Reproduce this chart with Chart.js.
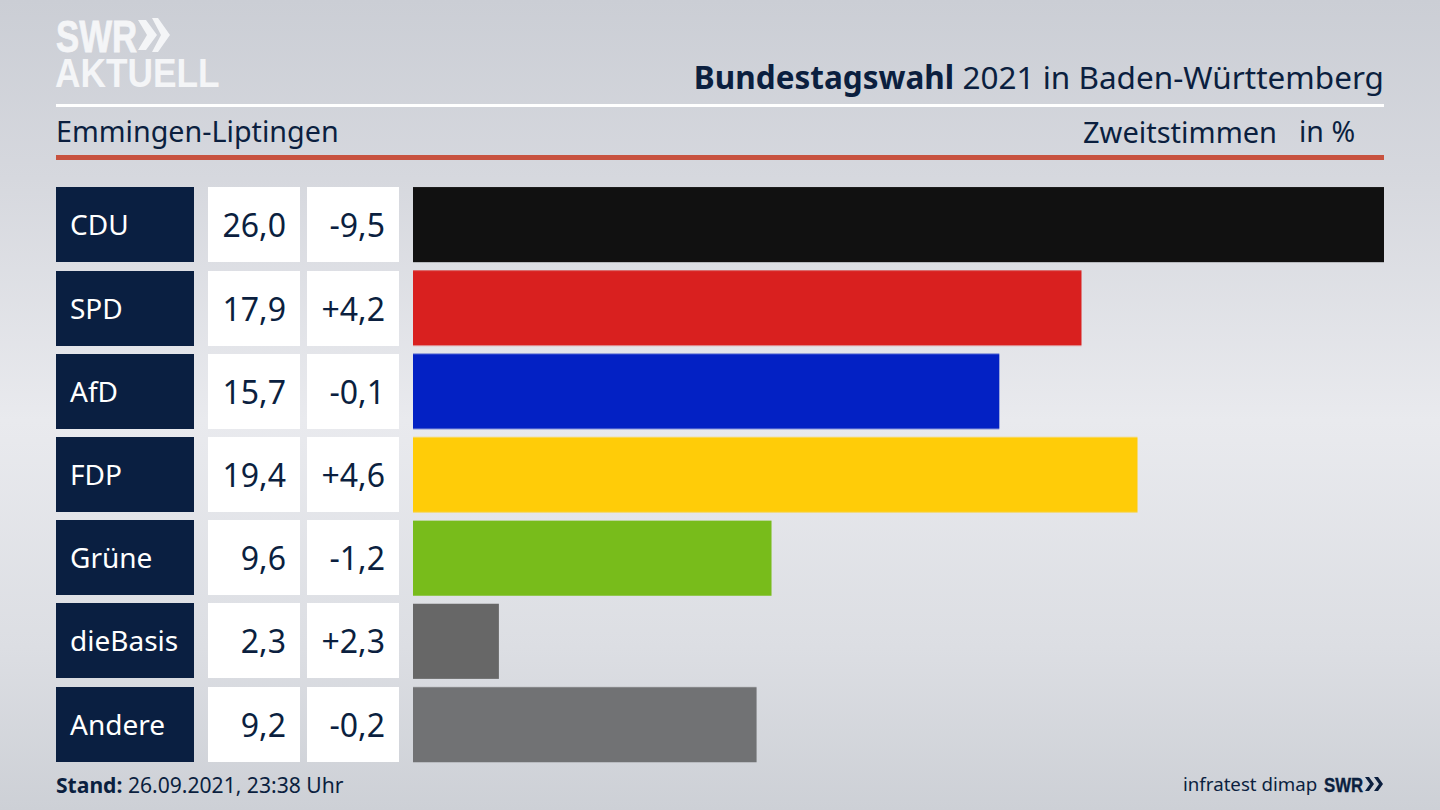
<!DOCTYPE html>
<html lang="de"><head><meta charset="utf-8">
<script src="https://cdn.jsdelivr.net/npm/chart.js@4"></script>
<style>
html,body{margin:0;padding:0;width:1440px;height:810px;overflow:hidden}
body{position:relative;background:linear-gradient(180deg,#cbced5 0%,#d6d8de 22%,#e9eaee 52%,#dcdee3 80%,#cdd0d6 100%);font-family:"Noto Sans",sans-serif;color:#0b1f3f}
.t{position:absolute;white-space:nowrap;line-height:1}
.logo{transform-origin:0 0;font-family:"Liberation Sans";font-weight:bold;color:#f4f5f7}
.box{position:absolute;height:75px;box-sizing:border-box;line-height:75px;white-space:nowrap}
.party{left:56px;width:138px;background:#0a1f41;color:#fff;padding-left:14px;font-size:28px}
.v1{left:208px;width:92px;background:#fff;text-align:right;padding-right:14px;font-size:32px}
.v2{left:307px;width:92px;background:#fff;text-align:right;padding-right:14px;font-size:32px}
.rule{position:absolute;left:56px;width:1328px}
#wrap{position:absolute;left:413px;top:183.4px;width:971px;height:582.4px}
</style></head><body>
<div class="t logo" style="left:56px;top:15px;font-size:44px;transform:scaleX(.79);-webkit-text-stroke:.8px #f4f5f7">SWR</div>
<svg style="position:absolute;left:136px;top:16px" width="36" height="38"><path fill="#f4f5f7" d="M2 4h8l11 15L10 34H2l9-15zM16 2h6l12 17-12 17h-6l9-17z"/></svg>
<div class="t logo" style="left:55px;top:53px;font-size:41px;transform:scaleX(.86)">AKTUELL</div>
<div class="t" style="right:56px;top:61px;font-size:31.5px"><b>Bundestagswahl</b> 2021 in Baden-Württemberg</div>
<div class="rule" style="top:104px;height:3px;background:#fff"></div>
<div class="t" style="left:56px;top:117px;font-size:28.7px">Emmingen-Liptingen</div>
<div class="t" style="left:1083px;top:117px;font-size:29px">Zweitstimmen</div>
<div class="t" style="left:1299px;top:117px;font-size:28.5px">in %</div>
<div class="rule" style="top:155px;height:5px;background:#c8523f"></div>
<div id="rows"></div>
<div id="wrap"><canvas id="c"></canvas></div>
<div class="t" style="left:56px;top:774px;font-size:21.1px"><b>Stand:</b> 26.09.2021, 23:38 Uhr</div>
<div class="t" style="left:1183px;top:775px;font-size:18.7px">infratest dimap</div>
<div class="t logo" style="left:1324px;top:774px;font-size:21px;transform:scaleX(.8);color:#0b1f3f;-webkit-text-stroke:.4px #0b1f3f">SWR</div>
<svg style="position:absolute;left:1365px;top:776px" width="19" height="16"><path fill="#0b1f3f" d="M0 1h4l5 7-5 7H0l5-7zM9 1h4l5 7-5 7H9l5-7z"/></svg>
<script>
const categories=["CDU","SPD","AfD","FDP","Grüne","dieBasis","Andere"];
const shares=[26.0,17.9,15.7,19.4,9.6,2.3,9.2];
const changes=["-9,5","+4,2","-0,1","+4,6","-1,2","+2,3","-0,2"];
const colors=["#111111","#d9201f","#0321c4","#ffcc08","#78bc1b","#676767","#717274"];
const fmt=v=>v.toFixed(1).replace(".",",");
const rows=document.getElementById("rows");
categories.forEach((c,i)=>{
  const top=187.4+i*83.2;
  [["party",c],["v1",fmt(shares[i])],["v2",changes[i]]].forEach(([k,s])=>{
    const d=document.createElement("div");d.className="box "+k;d.style.top=top+"px";d.textContent=s;rows.appendChild(d);
  });
});
new Chart(document.getElementById("c"),{
  type:"bar",
  data:{labels:categories,datasets:[{data:shares,backgroundColor:colors,barPercentage:0.9014,categoryPercentage:1,borderWidth:0}]},
  options:{indexAxis:"y",responsive:true,maintainAspectRatio:false,animation:false,
    layout:{padding:0},
    plugins:{legend:{display:false},tooltip:{enabled:false},title:{display:false}},
    scales:{x:{display:false,min:0,max:26},y:{display:false}}}
});
</script>
</body></html>
